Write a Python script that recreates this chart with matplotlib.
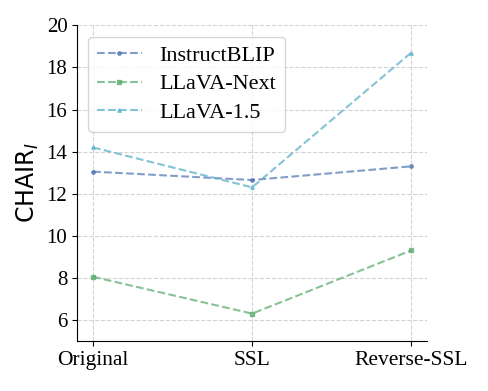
import matplotlib
matplotlib.use("Agg")
import matplotlib.pyplot as plt

# data
methods = ["Original", "SSL", "Reverse-SSL"]
instructblip = [13.05, 12.65, 13.3]
llava_next = [8.05, 6.3, 9.3]
llava_15 = [14.2, 12.3, 18.7]

plt.rcParams['font.family'] = ['Liberation Serif', 'DejaVu Serif']
plt.rcParams['mathtext.fontset'] = 'dejavusans'

fig, ax = plt.subplots(figsize=(4.88, 3.91), dpi=100)
x = range(len(methods))

ax.plot(x, instructblip, '--', marker='o', markersize=2.5, color='#4c72b0', alpha=0.7, label='InstructBLIP')
ax.plot(x, llava_next, '--', marker='s', markersize=2.5, color='#55a868', alpha=0.7, label='LLaVA-Next')
ax.plot(x, llava_15, '--', marker='^', markersize=2.5, color='#64b5cd', alpha=0.8, label='LLaVA-1.5')

ax.set_xticks(list(x))
ax.set_xticklabels(methods, fontsize=15.5)
ax.set_xlim(-0.1, 2.1)
ax.set_ylim(5, 20)
ax.set_yticks([6, 8, 10, 12, 14, 16, 18, 20])
ax.tick_params(axis='y', labelsize=15)
ax.set_ylabel(r'CHAIR$_I$', fontsize=17, family='DejaVu Sans')
ax.grid(True, linestyle='--', color='lightgray', linewidth=0.8)
ax.spines['top'].set_visible(False)
ax.spines['right'].set_visible(False)
ax.legend(loc='upper left', fontsize=16, handlelength=2.0, labelspacing=0.35)

fig.subplots_adjust(left=0.158, right=0.875, bottom=0.128, top=0.935)
fig.savefig('out.png', dpi=100)
